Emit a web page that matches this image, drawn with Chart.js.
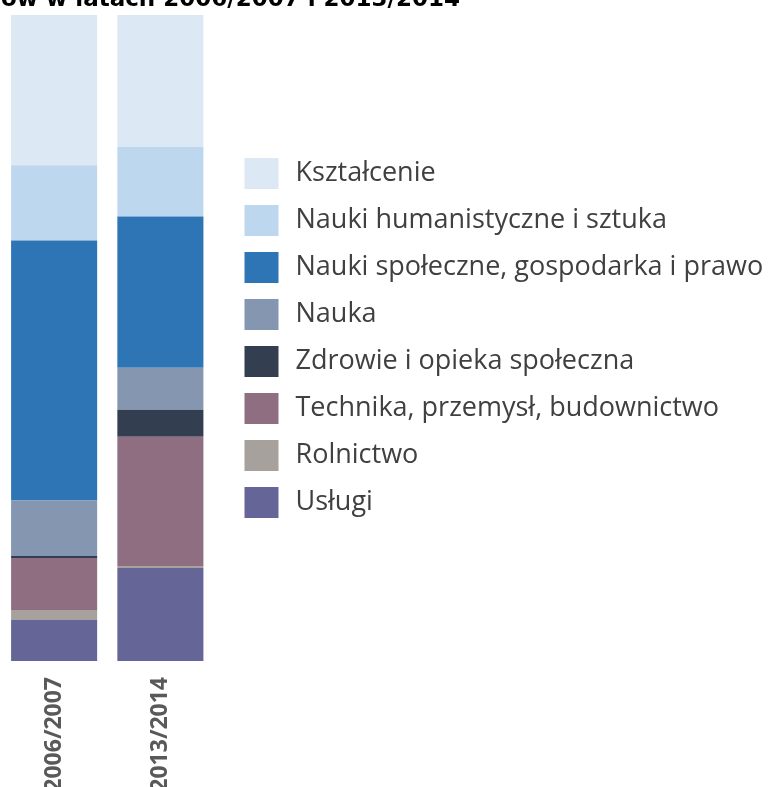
<!DOCTYPE html>
<html>
<head>
<meta charset="utf-8">
<script src="https://cdn.jsdelivr.net/npm/chart.js"></script>
<style>
  html, body { margin: 0; padding: 0; background: #ffffff; }
  #wrap { width: 770px; height: 787px; }
</style>
</head>
<body>
<div id="wrap"><canvas id="chart"></canvas></div>
<script>
// categories (school years)
const years = ['2006/2007', '2013/2014'];

// fields of study, legend order (top of bar first)
const fields = [
  'Kształcenie',
  'Nauki humanistyczne i sztuka',
  'Nauki społeczne, gospodarka i prawo',
  'Nauka',
  'Zdrowie i opieka społeczna',
  'Technika, przemysł, budownictwo',
  'Rolnictwo',
  'Usługi'
];

// share of graduates in %, same order as fields
const shares2006 = [23.3, 11.65, 40.25, 8.6, 0.3, 8.05, 1.55, 6.35];
const shares2014 = [20.4, 10.8, 23.4, 6.5, 4.2, 20.0, 0.3, 14.4];

const colors = ['#dde8f5', '#bdd7ee', '#2e75b6', '#8496b0', '#333f50', '#8e6e80', '#a6a19c', '#656597'];

const titleText = 'ów w latach 2006/2007 i 2013/2014';

const legendFont = { family: 'Open Sans', size: 27 };

// stack from bottom: Usługi first
const datasets = fields.map((name, i) => ({
  label: name,
  data: [shares2006[i], shares2014[i]],
  backgroundColor: colors[i],
  borderWidth: 0
})).reverse();

// legend should start right after the plot, so work out how much room is left over
const m = document.createElement('canvas').getContext('2d');
m.font = legendFont.size + 'px "' + legendFont.family + '"';
const longest = Math.max(...fields.map(f => m.measureText(f).width));
const legendLeft = 232.5;
const padRight = 770 - legendLeft - (9 + 41 + 13.5 + longest + 9) - 0.5;

const ctx = document.getElementById('chart').getContext('2d');
new Chart(ctx, {
  type: 'bar',
  data: { labels: years, datasets },
  options: {
    responsive: true,
    maintainAspectRatio: false,
    animation: false,
    layout: { padding: { top: -13.6, left: 1, right: padRight, bottom: 0 } },
    datasets: { bar: { barPercentage: 0.81, categoryPercentage: 1 } },
    scales: {
      x: {
        stacked: true,
        grid: { display: false, drawTicks: false },
        border: { display: false },
        ticks: {
          minRotation: 90,
          maxRotation: 90,
          padding: 16,
          color: '#595959',
          font: { family: 'Open Sans', size: 23, weight: 'bold' }
        },
        afterFit: (scale) => { scale.height = 126; }
      },
      y: {
        stacked: true,
        min: 0,
        max: 100,
        position: 'right',
        grid: { display: false },
        border: { display: false },
        ticks: { display: false },
        afterFit: (scale) => { scale.width = 18.5; }
      }
    },
    plugins: {
      tooltip: { enabled: false },
      title: {
        display: true,
        text: titleText,
        align: 'start',
        color: '#000000',
        padding: { top: 0, bottom: 1 },
        font: { family: 'DejaVu Sans', size: 23, weight: 'bold' }
      },
      legend: {
        position: 'right',
        fullSize: false,
        reverse: true,
        maxWidth: 700,
        labels: {
          boxWidth: 41,
          boxHeight: 38,
          padding: 9,
          color: '#404040',
          font: legendFont,
          generateLabels: (chart) => {
            const items = Chart.defaults.plugins.legend.labels.generateLabels(chart);
            // white stroke trims the square and widens the gap before the text
            return items.map(it => Object.assign(it, { strokeStyle: '#ffffff', lineWidth: 7 }));
          }
        }
      }
    }
  }
});
</script>
</body>
</html>
